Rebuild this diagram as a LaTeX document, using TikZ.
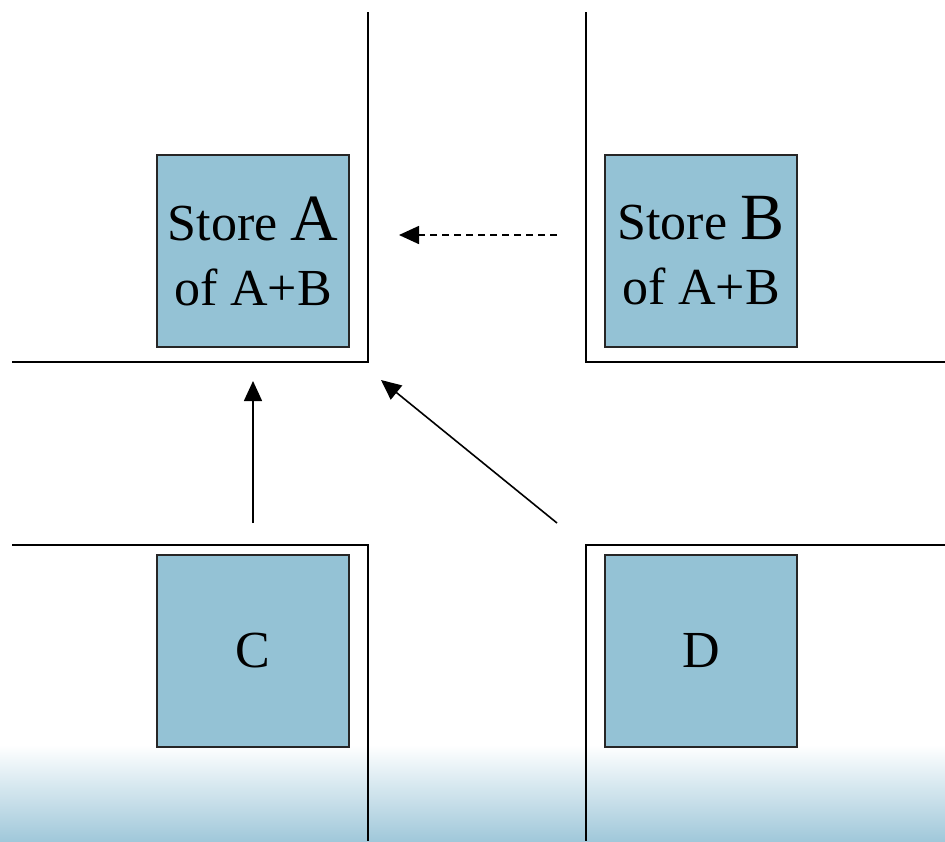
\documentclass[tikz,border=0pt]{standalone}
\usepackage{fontspec}
\setmainfont{Liberation Serif}
\usetikzlibrary{arrows.meta}
\definecolor{boxfill}{RGB}{148,194,213}
\definecolor{gradbot}{RGB}{160,200,218}
\begin{document}
\begin{tikzpicture}[x=1pt,y=-1pt,
  wall/.style={line width=2.6pt},
  store/.style={draw=black!85,line width=1.8pt,fill=boxfill,minimum width=192pt,minimum height=192pt,inner sep=0pt,align=center,font=\fontsize{52}{65}\selectfont},
  flow/.style={line width=1.6pt,-{Triangle[length=20pt,width=18pt]}}]
\useasboundingbox (0,0) rectangle (945,841);
\fill[white] (0,0) rectangle (945,841);
\shade[top color=white,bottom color=gradbot] (0,745) rectangle (945,841);
% walls
\coordinate (tl1) at (368,12); \coordinate (tl2) at (368,362); \coordinate (tl3) at (12,362);
\coordinate (tr1) at (586,12); \coordinate (tr2) at (586,362); \coordinate (tr3) at (945,362);
\coordinate (bl1) at (12,545); \coordinate (bl2) at (368,545); \coordinate (bl3) at (368,841);
\coordinate (br1) at (945,545); \coordinate (br2) at (586,545); \coordinate (br3) at (586,841);
\draw[wall] (tl1) -- (tl2) -- (tl3);
\draw[wall] (tr1) -- (tr2) -- (tr3);
\draw[wall] (bl1) -- (bl2) -- (bl3);
\draw[wall] (br1) -- (br2) -- (br3);
% stores
\node[store] (A) at (253,251) {Store {\fontsize{66}{65}\selectfont A}\\of A+B};
\node[store] (B) at (701,251) {Store {\fontsize{66}{65}\selectfont B}\\of A+B};
\node[store] (C) at (253,651) {C};
\node[store] (D) at (701,651) {D};
% arrows
\coordinate (ds) at (557,235); \coordinate (de) at (399,235);
\coordinate (us) at (253,523); \coordinate (ue) at (253,381);
\coordinate (gs) at (557,523); \coordinate (ge) at (381,380);
\draw[flow,dash pattern=on 7pt off 5pt] (ds) -- (de);
\draw[flow] (us) -- (ue);
\draw[flow] (gs) -- (ge);
\end{tikzpicture}
\end{document}
